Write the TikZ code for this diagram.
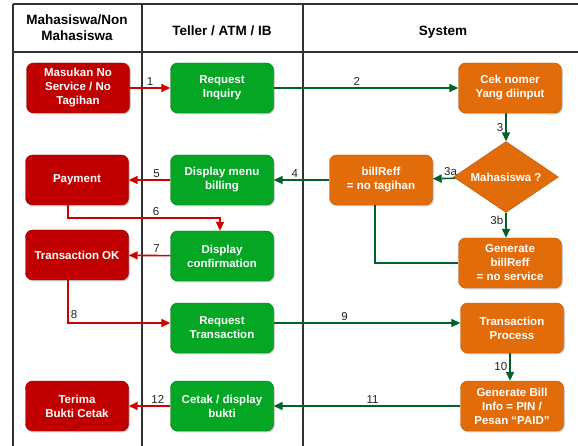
\documentclass[tikz,border=0pt]{standalone}
\usepackage{fontspec}
\setmainfont{Liberation Sans}
\usetikzlibrary{shapes.geometric, arrows.meta, shadows}
\definecolor{boxred}{RGB}{192,0,0}
\definecolor{boxgreen}{RGB}{4,166,36}
\definecolor{boxorange}{RGB}{227,108,10}
\definecolor{arrred}{RGB}{206,0,0}
\definecolor{arrgreen}{RGB}{0,98,40}
\definecolor{lanegray}{RGB}{50,50,50}
\definecolor{numgray}{RGB}{35,35,35}

\begin{document}
\begin{tikzpicture}[x=1pt, y=-1pt,
  every node/.style={font=\fontsize{11.5}{14}\selectfont},
  box/.style={rectangle, rounded corners=7pt, draw, thin, minimum height=50pt, minimum width=103pt, align=center, inner sep=2pt, text=white, font=\fontsize{11.5}{14}\selectfont\bfseries, drop shadow={shadow xshift=1.3pt, shadow yshift=-1.3pt, opacity=0.4}},
  actor/.style={box, fill=boxred, draw=boxred!75!black},
  teller/.style={box, fill=boxgreen, draw=boxgreen!70!black},
  sys/.style={box, fill=boxorange, draw=boxorange!80!black},
  decide/.style={diamond, fill=boxorange, draw=boxorange!80!black, thin, minimum width=105pt, minimum height=71pt, inner sep=0pt, aspect=1.48, text=white, font=\fontsize{11.5}{14}\selectfont\bfseries},
  head/.style={align=center, font=\fontsize{13.5}{16}\selectfont\bfseries},
  lane/.style={line width=1.3pt, draw=lanegray},
  lbl/.style={text=numgray, inner sep=2pt},
  redarr/.style={-{Triangle[length=9pt, width=8pt]}, line width=1.6pt, draw=arrred},
  greenarr/.style={-{Triangle[length=9pt, width=8pt]}, line width=1.6pt, draw=arrgreen},
  greenline/.style={line width=1.6pt, draw=arrgreen}
]
\useasboundingbox (0,0) rectangle (578,446);

% swimlanes
\draw[lane] (13,4) -- (578,4);
\draw[lane] (13,52) -- (578,52);
\draw[lane] (13,4) -- (13,446);
\draw[lane] (142,4) -- (142,446);
\draw[lane] (303,4) -- (303,446);
\node[head] (hmhs) at (77,28) {Mahasiswa/Non\\Mahasiswa};
\node[head] (htel) at (222,31) {Teller / ATM / IB};
\node[head] (hsys) at (443,32) {System};

% Mahasiswa lane
\node[actor] (input)  at (78,88)   {Masukan No\\Service / No\\Tagihan};
\node[actor] (pay)    at (77,180)  {Payment};
\node[actor] (tok)    at (77,255)  {Transaction OK};
\node[actor] (terima) at (77,406)  {Terima\\Bukti Cetak};

% Teller lane
\node[teller] (rinq)   at (222,88)  {Request\\Inquiry};
\node[teller] (menu)   at (222,180) {Display menu\\billing};
\node[teller] (conf)   at (222,256) {Display\\confirmation};
\node[teller] (rtrans) at (222,328) {Request\\Transaction};
\node[teller] (cetak)  at (222,406) {Cetak / display\\bukti};

% System lane
\node[sys] (cek)    at (510,88)  {Cek nomer\\Yang diinput};
\node[decide] (mhs) at (506,177) {Mahasiswa ?};
\node[sys] (bref)   at (381,180) {billReff\\= no tagihan};
\node[sys] (gref)   at (510,263) {Generate\\billReff\\= no service};
\node[sys] (tproc)  at (512,328) {Transaction\\Process};
\node[sys] (ginfo)  at (512,406) {Generate Bill\\Info = PIN /\\Pesan ``PAID''};

% inquiry
\draw[redarr] (input) -- node[lbl, above, pos=0.5] (n1) {1} (rinq);
\draw[greenarr] (rinq) -- node[lbl, above, pos=0.45] (n2) {2} (cek);
\draw[greenarr] (mhs.north |- cek.south) -- node[lbl, left] (n3) {3} (mhs.north);
\draw[greenarr] (mhs) -- node[lbl, above, pos=0.2] (n3a) {3a} (bref);
\draw[greenarr] (mhs) -- node[lbl, left, pos=0.3] (n3b) {3b} (mhs.south |- gref.north);
\draw[greenline] (gref.west) -| ([xshift=-6pt]bref.south);
\draw[greenarr] (bref) -- node[lbl, above, pos=0.62] (n4) {4} (menu);

% payment
\draw[redarr] (menu) -- node[lbl, above, pos=0.33] (n5) {5} (pay);
\draw[redarr] ([xshift=-9pt]pay.south) -- ++(0,13) -| node[lbl, above, pos=0.29] (n6) {6} ([xshift=-2pt]conf.north);
\draw[redarr] (conf) -- node[lbl, above, pos=0.33] (n7) {7} (tok);
\draw[redarr] ([xshift=-9pt]tok.south) |- node[lbl, right, pos=0.4] (n8) {8} ([yshift=5pt]rtrans.west);

% transaction
\draw[greenarr] ([yshift=5pt]rtrans.east) -- node[lbl, above, pos=0.38] (n9) {9} ([yshift=5pt]tproc.west);
\draw[greenarr] ([xshift=-2pt]tproc.south) -- node[lbl, left] (n10) {10} ([xshift=-2pt]ginfo.north);
\draw[greenarr] (ginfo) -- node[lbl, above, pos=0.47] (n11) {11} (cetak);
\draw[redarr] (cetak) -- node[lbl, above, pos=0.3] (n12) {12} (terima);
\end{tikzpicture}
\end{document}
